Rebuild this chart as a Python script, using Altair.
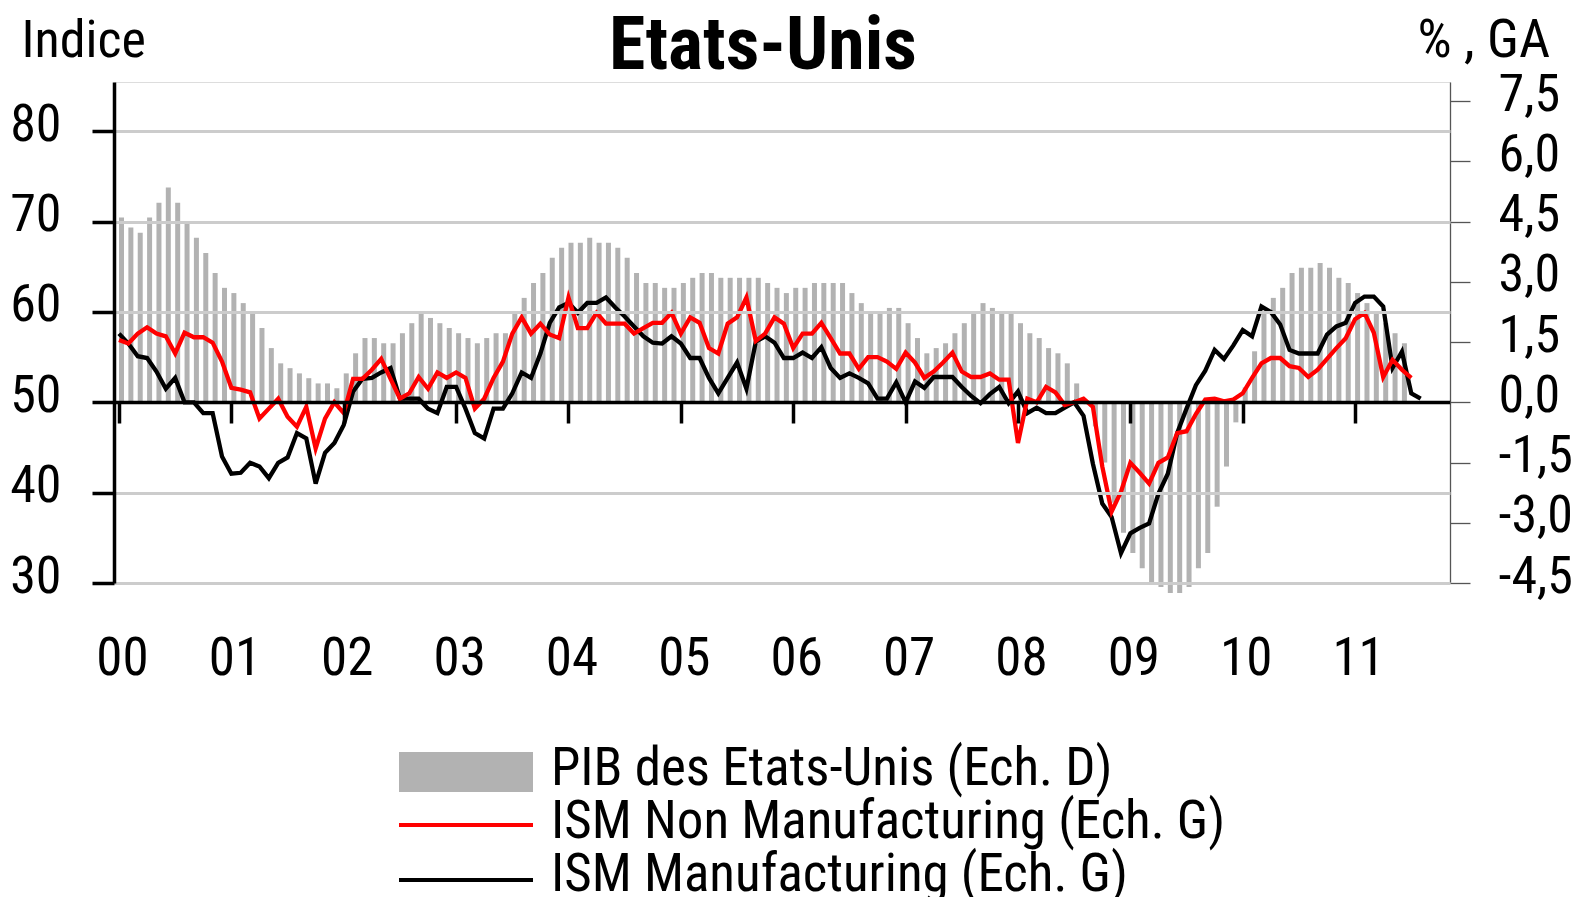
import altair as alt
import pandas as pd

# ---------------- data ----------------
# monthly index: 0 = Jan 2000
GDP_YOY = [  # PIB des Etats-Unis, % GA (Ech. D), i0..i137
    4.6, 4.35, 4.22, 4.6, 4.97, 5.35, 4.97, 4.47, 4.1, 3.72, 3.22, 2.85,
    2.72, 2.47, 2.22, 1.85, 1.35, 0.97, 0.85, 0.72, 0.6, 0.47, 0.47, 0.35,
    0.72, 1.22, 1.6, 1.6, 1.47, 1.47, 1.72, 1.97, 2.22, 2.1, 1.97, 1.85,
    1.72, 1.6, 1.47, 1.6, 1.72, 1.72, 2.22, 2.6, 2.97, 3.22, 3.6, 3.85,
    3.97, 3.97, 4.1, 3.97, 3.97, 3.85, 3.6, 3.22, 2.97, 2.97, 2.85, 2.85,
    2.97, 3.1, 3.22, 3.22, 3.1, 3.1, 3.1, 3.1, 3.1, 2.97, 2.85, 2.72,
    2.85, 2.85, 2.97, 2.97, 2.97, 2.97, 2.72, 2.47, 2.22, 2.22, 2.35, 2.35,
    1.97, 1.6, 1.22, 1.35, 1.47, 1.72, 1.97, 2.22, 2.47, 2.35, 2.22, 2.22,
    1.97, 1.72, 1.6, 1.35, 1.22, 0.97, 0.47, -0.05, -0.6, -1.5, -2.5, -3.25,
    -3.75, -4.13, -4.48, -4.6, -4.75, -4.75, -4.6, -4.13, -3.75, -2.6, -1.6, -0.5,
    0.37, 1.27, 2.2, 2.6, 2.85, 3.22, 3.35, 3.35, 3.47, 3.35, 3.1, 2.97,
    2.72, 2.47, 2.22, 1.97, 1.72, 1.47,
]
ISM_NON_MANUF = [  # ISM Non Manufacturing (Ech. G), i0..i138
    56.9, 56.5, 57.6, 58.3, 57.6, 57.3, 55.4, 57.7, 57.2, 57.2, 56.6, 54.5,
    51.6, 51.4, 51.1, 48.2, 49.3, 50.4, 48.4, 47.3, 49.5, 44.9, 48.2, 50.0,
    48.8, 52.6, 52.6, 53.6, 54.8, 52.6, 50.4, 51.0, 52.8, 51.5, 53.3, 52.7,
    53.3, 52.7, 49.3, 50.4, 52.7, 54.5, 57.6, 59.4, 57.6, 58.7, 57.5, 57.1,
    61.6, 58.2, 58.2, 59.9, 58.7, 58.7, 58.7, 57.6, 58.2, 58.8, 58.8, 59.9,
    57.6, 59.4, 58.8, 56.0, 55.4, 58.7, 59.4, 61.6, 56.8, 57.6, 59.4, 58.7,
    56.0, 57.6, 57.6, 58.8, 57.1, 55.4, 55.4, 53.7, 55.0, 55.0, 54.5, 53.7,
    55.5, 54.4, 52.7, 53.4, 54.4, 55.5, 53.4, 52.8, 52.8, 53.2, 52.5, 52.5,
    45.5, 50.4, 50.0, 51.7, 51.1, 49.7, 50.0, 50.4, 49.5, 42.9, 37.9, 40.1,
    43.3, 42.2, 41.0, 43.3, 43.9, 46.6, 46.8, 48.7, 50.3, 50.4, 50.1, 50.3,
    51.0, 52.7, 54.3, 54.9, 54.9, 54.0, 53.8, 52.8, 53.6, 54.8, 56.0, 57.1,
    59.2, 59.9, 57.7, 52.8, 54.7, 53.6, 52.7,
]
ISM_MANUF = [  # ISM Manufacturing (Ech. G), i0..i139
    57.6, 56.5, 55.1, 54.9, 53.4, 51.5, 52.7, 50.0, 50.0, 48.8, 48.8, 44.0,
    42.1, 42.2, 43.3, 42.9, 41.6, 43.3, 43.9, 46.6, 46.0, 41.0, 44.4, 45.5,
    47.5, 51.2, 52.6, 52.7, 53.3, 53.8, 50.4, 50.4, 50.4, 49.3, 48.8, 51.7,
    51.7, 49.3, 46.6, 46.0, 49.3, 49.3, 51.0, 53.3, 52.7, 55.4, 58.8, 60.5,
    61.0, 59.9, 61.0, 61.0, 61.6, 60.5, 59.5, 58.4, 57.3, 56.6, 56.5, 57.3,
    56.5, 54.9, 54.9, 52.7, 51.0, 52.7, 54.4, 51.5, 56.7, 57.3, 56.6, 54.9,
    54.9, 55.5, 54.9, 56.1, 53.8, 52.7, 53.2, 52.7, 52.1, 50.4, 50.4, 52.2,
    50.0, 52.3, 51.6, 52.8, 52.8, 52.8, 51.7, 50.7, 49.9, 50.9, 51.7, 49.9,
    51.2, 48.8, 49.4, 48.8, 48.8, 49.4, 50.0, 48.5, 43.2, 38.8, 37.3, 33.3,
    35.5, 36.1, 36.6, 39.9, 42.1, 46.6, 49.3, 51.9, 53.5, 55.8, 54.8, 56.3,
    58.0, 57.3, 60.6, 60.0, 58.6, 55.8, 55.4, 55.4, 55.4, 57.5, 58.4, 58.8,
    61.0, 61.7, 61.7, 60.6, 53.8, 55.6, 51.0, 50.4,
]
YEAR_LABELS = ["00", "01", "02", "03", "04", "05", "06", "07", "08", "09", "10", "11"]
LEFT_TICKS = [30, 40, 50, 60, 70, 80]
RIGHT_TICKS = [-4.5, -3.0, -1.5, 0.0, 1.5, 3.0, 4.5, 6.0, 7.5]
SERIES = ["ISM Manufacturing (Ech. G)", "ISM Non Manufacturing (Ech. G)"]
LEGEND_LABELS = ["PIB des Etats-Unis (Ech. D)", "ISM Non Manufacturing (Ech. G)",
                 "ISM Manufacturing (Ech. G)"]
TITLE = "Etats-Unis"

# ---------------- styling ----------------
FONT = "Roboto Condensed, DejaVu Sans Condensed, Liberation Sans, sans-serif"
FS = 52          # axis labels / axis titles
FS_LEG = 53      # legend
W, H = 1336, 501
GRAY = "#b2b2b2"
RED = "#ff0000"

gdp_df = pd.DataFrame({"m": range(len(GDP_YOY)), "v": GDP_YOY})
ism_df = pd.concat([
    pd.DataFrame({"m": range(len(ISM_MANUF)), "v": ISM_MANUF, "s": SERIES[0]}),
    pd.DataFrame({"m": range(len(ISM_NON_MANUF)), "v": ISM_NON_MANUF, "s": SERIES[1]}),
])

x_scale = alt.Scale(domain=[0, 141.6], nice=False, zero=False)
year_expr = "[" + ",".join("'%s'" % y for y in YEAR_LABELS) + "][round(datum.value / 12)]"
x_axis = alt.Axis(
    values=[12 * k for k in range(len(YEAR_LABELS))], labelExpr=year_expr,
    offset=-181, domainColor="black", domainWidth=3.5, tickColor="black",
    tickWidth=3.5, tickSize=21, labelPadding=209, labelFontSize=FS + 1, labelFont=FONT,
    labelColor="black", labelOffset=3, grid=False, title=None, zindex=1,
)

right_axis = alt.Axis(
    orient="right", values=RIGHT_TICKS,
    labelExpr="replace((datum.value < 0 ? '-' : '') + format(abs(datum.value), '.1f'), '.', ',')",
    domainColor="#555555", domainWidth=1.3, tickColor="#555555", tickWidth=1.3,
    tickSize=20, labelPadding=28, labelFontSize=FS, labelFont=FONT, labelColor="black",
    labelOffset=-7, grid=False,
    title="% , GA", titleAngle=0, titleAlign="left", titleBaseline="alphabetic",
    titleX=-33, titleY=-26, titleFont=FONT, titleFontSize=FS + 2, titleFontWeight="normal",
    titleColor="black",
)
left_axis = alt.Axis(
    orient="left", values=LEFT_TICKS, format="d",
    domainColor="black", domainWidth=3.5, tickColor="black", tickWidth=3.5,
    tickSize=22, labelPadding=31, labelFontSize=FS, labelFont=FONT, labelColor="black",
    labelOffset=-7, grid=True, gridColor="#cccccc", gridWidth=3, zindex=1,
    title="Indice", titleAngle=0, titleAlign="left", titleBaseline="alphabetic",
    titleX=-93, titleY=-26, titleFont=FONT, titleFontSize=FS, titleFontWeight="normal",
    titleColor="black",
)

bars = alt.Chart(gdp_df).mark_bar(width=5, color=GRAY, xOffset=2.5).encode(
    x=alt.X("m:Q", scale=x_scale, axis=x_axis),
    y=alt.Y("v:Q", scale=alt.Scale(domain=[-4.5, 7.976], nice=False, zero=False), axis=right_axis),
    y2=alt.datum(0),
)

lines = alt.Chart(ism_df).mark_line(strokeWidth=4.3).encode(
    x=alt.X("m:Q", scale=x_scale, axis=x_axis),
    y=alt.Y("v:Q", scale=alt.Scale(domain=[30, 85.45], nice=False, zero=False), axis=left_axis),
    color=alt.Color("s:N", scale=alt.Scale(domain=SERIES, range=["black", RED]), legend=None),
    order=alt.Order("s:N"),
)

one = pd.DataFrame({"k": [0]})
title_mark = alt.Chart(one).mark_text(
    font=FONT, fontSize=74, fontWeight="bold", align="center",
    baseline="alphabetic", color="black").encode(
    x=alt.value(649), y=alt.value(-13), text=alt.value(TITLE))

sw_x0, sw_x1 = 285, 419
leg_rect = alt.Chart(one).mark_rect(color=GRAY).encode(
    x=alt.value(sw_x0), x2=alt.value(sw_x1), y=alt.value(670), y2=alt.value(710))
leg_red = alt.Chart(one).mark_rule(color=RED, strokeWidth=4).encode(
    x=alt.value(sw_x0), x2=alt.value(sw_x1), y=alt.value(743))
leg_black = alt.Chart(one).mark_rule(color="black", strokeWidth=4).encode(
    x=alt.value(sw_x0), x2=alt.value(sw_x1), y=alt.value(798))
leg_texts = [
    alt.Chart(one).mark_text(font=FONT, fontSize=FS_LEG, align="left",
                             baseline="alphabetic", color="black").encode(
        x=alt.value(437), y=alt.value(yb), text=alt.value(lbl))
    for lbl, yb in zip(LEGEND_LABELS, [703, 756, 809])
]

chart = alt.layer(bars, lines, title_mark, leg_rect, leg_red, leg_black, *leg_texts).resolve_scale(
    y="independent"
).properties(
    width=W, height=H,
    autosize=alt.AutoSizeParams(type="none"),
    padding={"left": 106, "top": 74, "right": 126, "bottom": 314},
).configure_view(stroke=None).configure(background="white")

chart.save("out.html", embed_options={"renderer": "svg", "actions": False})
